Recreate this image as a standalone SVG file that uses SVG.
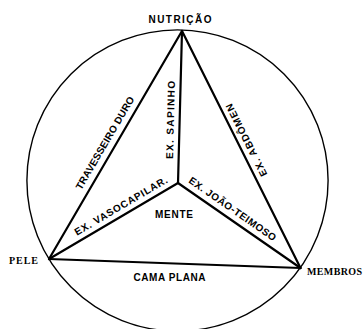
<svg xmlns="http://www.w3.org/2000/svg" width="364" height="329" viewBox="0 0 364 329">
<style>
.bg{fill:#fff}
.ring{fill:none;stroke:#000;stroke-width:1.4}
.edge{stroke:#000;stroke-width:2.2;stroke-linecap:round;fill:none}
.lbl{font-family:"Liberation Sans",Arial,sans-serif;font-weight:bold;font-size:10px;fill:#000}
.node{font-family:"Liberation Sans",Arial,sans-serif;font-weight:bold;font-size:10px;fill:#000;text-anchor:middle}
.serif{font-family:"Liberation Serif","Times New Roman",serif;font-weight:bold;font-size:10px;fill:#000}
</style>
<rect class="bg" x="0" y="0" width="364" height="329"/>
<circle class="ring" cx="177.5" cy="180.5" r="150.6"/>
<g id="connectors">
  <line class="edge" x1="182" y1="31" x2="49" y2="259"/>
  <line class="edge" x1="182" y1="31" x2="300.5" y2="268"/>
  <line class="edge" x1="49" y1="259" x2="300.5" y2="268"/>
  <line class="edge" x1="182" y1="31" x2="178" y2="183"/>
  <line class="edge" x1="49" y1="259" x2="178" y2="183"/>
  <line class="edge" x1="178" y1="183" x2="300.5" y2="268"/>
  <text class="lbl" text-anchor="middle" textLength="106" lengthAdjust="spacing" transform="translate(107.9,144.7) rotate(-59.7)">TRAVESSEIRO DURO</text>
  <text class="lbl" text-anchor="middle" textLength="78" lengthAdjust="spacing" transform="translate(174,120) rotate(-88.5)">EX. SAPINHO</text>
  <text class="lbl" text-anchor="middle" textLength="80" lengthAdjust="spacing" transform="translate(249.5,138.5) rotate(-116.6)">EX. ABDÔMEN</text>
  <text class="lbl" text-anchor="middle" textLength="106" lengthAdjust="spacing" transform="translate(122.7,208.9) rotate(-30.5)">EX. VASOCAPILAR.</text>
  <text class="lbl" text-anchor="middle" textLength="104" lengthAdjust="spacing" transform="translate(230.6,211.8) rotate(34.9)">EX. JOÃO-TEIMOSO</text>
  <text class="lbl" text-anchor="middle" textLength="72" lengthAdjust="spacing" x="169.5" y="281">CAMA PLANA</text>
</g>
<g id="node-nutricao"><text class="node" x="180" y="22.5" textLength="63" lengthAdjust="spacing">NUTRIÇÃO</text></g>
<g id="node-pele"><text class="serif" x="9" y="264" textLength="29" lengthAdjust="spacing">PELE</text></g>
<g id="node-membros"><text class="serif" x="307" y="275" textLength="55" lengthAdjust="spacing">MEMBROS</text></g>
<g id="node-mente"><text class="node" x="174" y="218" textLength="38" lengthAdjust="spacing">MENTE</text></g>
</svg>
